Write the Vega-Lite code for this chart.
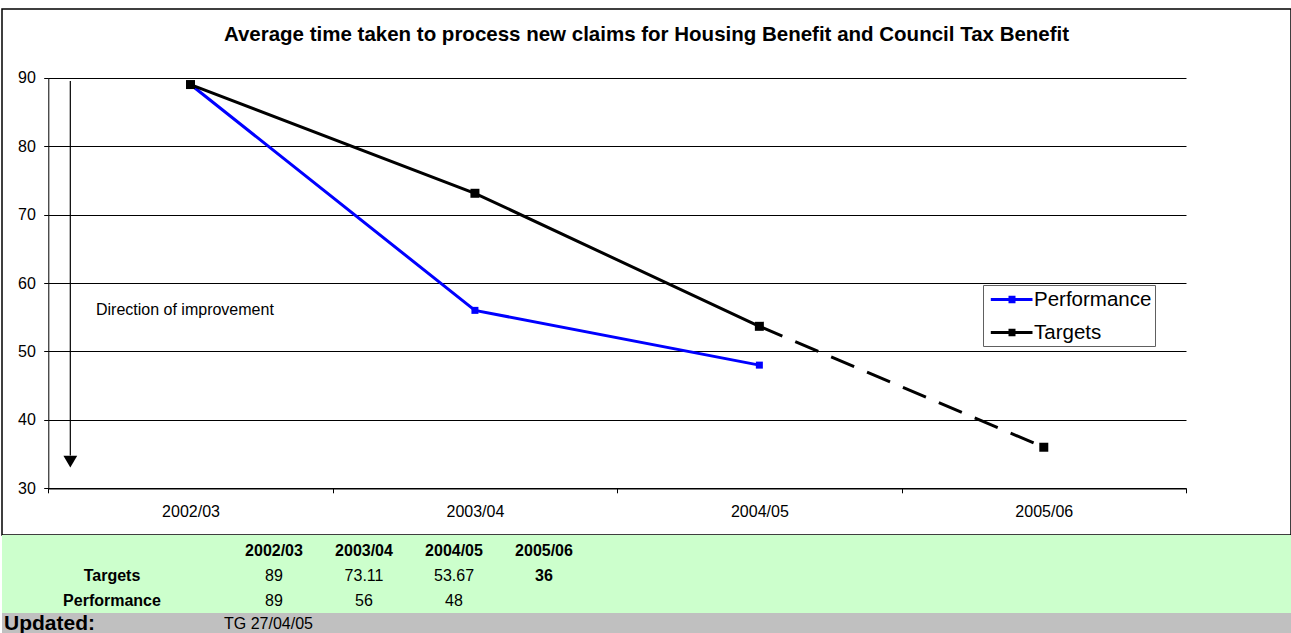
{
  "$schema": "https://vega.github.io/schema/vega-lite/v6.json",
  "padding": {"left": 1, "top": 8, "right": 0, "bottom": 0},
  "background": "white",
  "spacing": 0,
  "bounds": "flush",
  "config": {"font": "Liberation Sans", "view": {"stroke": null}},
  "datasets": {
    "claims": [
      {"year": "2002/03", "series": "Performance", "days": 89, "segment": "actual"},
      {"year": "2003/04", "series": "Performance", "days": 56, "segment": "actual"},
      {"year": "2004/05", "series": "Performance", "days": 48, "segment": "actual"},
      {"year": "2002/03", "series": "Targets", "days": 89, "segment": "actual"},
      {"year": "2003/04", "series": "Targets", "days": 73.11, "segment": "actual"},
      {"year": "2004/05", "series": "Targets", "days": 53.67, "segment": "actual"},
      {"year": "2004/05", "series": "Targets", "days": 53.67, "segment": "projected"},
      {"year": "2005/06", "series": "Targets", "days": 36, "segment": "projected"}
    ],
    "updated": [{"cell": "Updated:"}, {"cell": "TG 27/04/05"}]
  },
  "vconcat": [
    {
      "width": 1289,
      "height": 526,
      "view": {"stroke": "#000000", "strokeWidth": 1.5, "fill": "white"},
      "title": {
        "text": "Average time taken to process new claims for Housing Benefit and Council Tax Benefit",
        "font": "Liberation Sans", "fontSize": 20.5, "fontWeight": "bold", "color": "#000000",
        "anchor": "middle", "frame": "group", "offset": -52, "baseline": "alphabetic"
      },
      "data": {"name": "claims"},
      "encoding": {
        "x": {
          "field": "year", "type": "nominal",
          "scale": {"type": "band", "domain": ["2002/03", "2003/04", "2004/05", "2005/06"], "range": [46.3, 1184], "paddingInner": 0, "paddingOuter": 0},
          "axis": {"title": null, "orient": "bottom", "offset": -46.7, "tickBand": "extent", "grid": false, "labelAngle": 0,
                   "domainColor": "#000000", "domainWidth": 1.5, "tickColor": "#000000", "tickSize": 4.5, "tickWidth": 1,
                   "labelFont": "Liberation Sans", "labelFontSize": 16, "labelColor": "#000000", "labelBaseline": "alphabetic", "labelPadding": 24}
        },
        "y": {
          "field": "days", "type": "quantitative",
          "scale": {"domain": [30, 90], "range": [479.3, 68.7], "zero": false, "nice": false},
          "axis": {"title": null, "offset": -46.3, "values": [30, 40, 50, 60, 70, 80, 90], "grid": true, "gridColor": "#000000", "gridWidth": 1,
                   "domainColor": "#000000", "domainWidth": 1, "tickColor": "#000000", "tickSize": 4.6,
                   "labelFont": "Liberation Sans", "labelFontSize": 16, "labelColor": "#000000", "labelPadding": 8.4}
        }
      },
      "layer": [
        {
          "transform": [{"filter": "datum.series == 'Targets' && datum.year == '2002/03'"}],
          "mark": {"type": "rule", "color": "#000000", "strokeWidth": 1.2},
          "encoding": {
            "x": {"field": "year", "type": "nominal", "bandPosition": 0.0774},
            "y": {"datum": 89.5, "type": "quantitative"},
            "y2": {"datum": 34.8}
          }
        },
        {
          "transform": [{"filter": "datum.series == 'Targets' && datum.year == '2002/03'"}],
          "mark": {"type": "point", "shape": "triangle-down", "filled": true, "color": "#000000", "size": 190, "opacity": 1},
          "encoding": {
            "x": {"field": "year", "type": "nominal", "bandPosition": 0.0774},
            "y": {"datum": 33.9, "type": "quantitative"}
          }
        },
        {
          "transform": [{"filter": "datum.series == 'Targets' && datum.year == '2002/03'"}],
          "mark": {"type": "text", "align": "left", "baseline": "alphabetic", "font": "Liberation Sans", "fontSize": 16, "color": "#000000"},
          "encoding": {
            "x": {"field": "year", "type": "nominal", "bandPosition": 0.1677},
            "y": {"datum": 55.28, "type": "quantitative"},
            "text": {"value": "Direction of improvement"}
          }
        },
        {
          "transform": [{"filter": "datum.segment == 'actual'"}],
          "mark": {"type": "line", "strokeWidth": 3},
          "encoding": {
            "color": {
              "field": "series", "type": "nominal",
              "scale": {"domain": ["Performance", "Targets"], "range": ["#0000FF", "#000000"]},
              "legend": {
                "orient": "none", "legendX": 981, "legendY": 276, "title": null,
                "symbolType": "M-0.67,0H3.5M1.25,-0.22H1.65V0.22H1.25Z", "symbolSize": 400, "symbolStrokeWidth": 3,
                "labelFont": "Liberation Sans", "labelFontSize": 20.5, "labelColor": "#000000", "labelOffset": 25,
                "rowPadding": 11, "padding": 3, "strokeColor": "#606060", "fillColor": "white",
                "encode": {"symbols": {"update": {"fill": {"scale": "color", "field": "value"}, "stroke": {"scale": "color", "field": "value"}, "strokeWidth": {"value": 3}, "opacity": {"value": 1}}}}
              }
            }
          }
        },
        {
          "transform": [{"filter": "datum.segment == 'projected'"}],
          "mark": {"type": "line", "strokeWidth": 3, "strokeDash": [25, 14], "color": "#000000"},
          "encoding": {}
        },
        {
          "transform": [{"filter": "datum.segment == 'actual' || datum.year == '2005/06'"}],
          "mark": {"type": "point", "shape": "square", "filled": true, "opacity": 1},
          "encoding": {
            "color": {"field": "series", "type": "nominal"},
            "size": {"condition": {"test": "datum.series == 'Targets'", "value": 81}, "value": 49}
          }
        }
      ]
    },
    {
      "width": 1290,
      "height": 78,
      "view": {"fill": "#CCFFCC", "stroke": null},
      "data": {"name": "claims"},
      "transform": [{"filter": "datum.segment == 'actual' || datum.year == '2005/06'"}],
      "encoding": {
        "y": {"field": "series", "type": "nominal", "scale": {"type": "band", "domain": ["Year", "Targets", "Performance"], "range": [8.5, 83.5], "paddingInner": 0, "paddingOuter": 0}, "axis": null}
      },
      "layer": [
        {
          "transform": [{"filter": "datum.series == 'Targets'"}],
          "mark": {"type": "text", "baseline": "alphabetic", "font": "Liberation Sans", "fontSize": 16, "fontWeight": "bold", "color": "#000000"},
          "encoding": {
            "x": {"field": "year", "type": "nominal", "scale": {"type": "band", "domain": ["2002/03", "2003/04", "2004/05", "2005/06"], "range": [227, 587], "paddingInner": 0, "paddingOuter": 0}, "axis": null},
            "y": {"datum": "Year", "type": "nominal"},
            "text": {"field": "year"}
          }
        },
        {
          "transform": [{"filter": "datum.year != '2005/06'"}],
          "mark": {"type": "text", "baseline": "alphabetic", "font": "Liberation Sans", "fontSize": 16, "color": "#000000"},
          "encoding": {
            "x": {"field": "year", "type": "nominal", "scale": {"type": "band", "domain": ["2002/03", "2003/04", "2004/05", "2005/06"], "range": [227, 587], "paddingInner": 0, "paddingOuter": 0}, "axis": null},
            "text": {"field": "days", "type": "quantitative"}
          }
        },
        {
          "transform": [{"filter": "datum.year == '2005/06'"}],
          "mark": {"type": "text", "baseline": "alphabetic", "font": "Liberation Sans", "fontSize": 16, "fontWeight": "bold", "color": "#000000"},
          "encoding": {
            "x": {"field": "year", "type": "nominal", "scale": {"type": "band", "domain": ["2002/03", "2003/04", "2004/05", "2005/06"], "range": [227, 587], "paddingInner": 0, "paddingOuter": 0}, "axis": null},
            "text": {"field": "days", "type": "quantitative"}
          }
        },
        {
          "transform": [{"aggregate": [{"op": "count", "as": "n"}], "groupby": ["series"]}],
          "mark": {"type": "text", "baseline": "alphabetic", "font": "Liberation Sans", "fontSize": 16, "fontWeight": "bold", "color": "#000000"},
          "encoding": {
            "x": {"datum": "Series", "type": "nominal", "scale": {"type": "band", "domain": ["Series"], "range": [0, 220], "paddingInner": 0, "paddingOuter": 0}, "axis": null},
            "text": {"field": "series"}
          }
        }
      ],
      "resolve": {"scale": {"x": "independent"}}
    },
    {
      "width": 1290,
      "height": 21,
      "view": {"fill": "#C0C0C0", "stroke": null},
      "data": {"name": "updated"},
      "encoding": {
        "x": {"field": "cell", "type": "nominal", "bandPosition": 0, "scale": {"type": "band", "domain": ["Updated:", "TG 27/04/05"], "range": [2, 442], "paddingInner": 0, "paddingOuter": 0}, "axis": null}
      },
      "layer": [
        {
          "transform": [{"filter": "datum.cell == 'Updated:'"}],
          "mark": {"type": "text", "align": "left", "baseline": "middle", "font": "Liberation Sans", "fontSize": 21, "fontWeight": "bold", "color": "#000000"},
          "encoding": {"text": {"field": "cell"}}
        },
        {
          "transform": [{"filter": "datum.cell != 'Updated:'"}],
          "mark": {"type": "text", "align": "left", "baseline": "middle", "font": "Liberation Sans", "fontSize": 16, "color": "#000000"},
          "encoding": {"text": {"field": "cell"}}
        }
      ]
    }
  ]
}
